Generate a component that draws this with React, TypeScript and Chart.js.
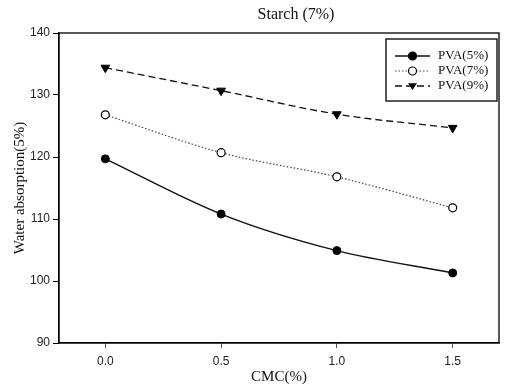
import React, { useEffect, useRef } from "react";
import { Chart, registerables } from "chart.js";

Chart.register(...registerables);

const chartTitle = "Starch (7%)";
const xAxisTitle = "CMC(%)";
const yAxisTitle = "Water absorption(5%)";
const cmc = [0.0, 0.5, 1.0, 1.5];
const xTickValues = [0.0, 0.5, 1.0, 1.5];
const yTickValues = [90, 100, 110, 120, 130, 140];
const seriesLabels = ["PVA(5%)", "PVA(7%)", "PVA(9%)"];
const pva5 = [119.7, 110.8, 104.9, 101.3];
const pva7 = [126.8, 120.7, 116.8, 111.8];
const pva9 = [134.4, 130.7, 126.9, 124.7];

const SERIF = "'Liberation Serif', 'Times New Roman', serif";
const SANS = "'Liberation Sans', Arial, sans-serif";

const framePlugin = {
  id: "frame",
  beforeDatasetsDraw(chart: any) {
    const { ctx, chartArea } = chart;
    ctx.save();
    ctx.strokeStyle = "#000";
    ctx.lineWidth = 1.3;
    ctx.strokeRect(chartArea.left, chartArea.top, chartArea.right - chartArea.left, chartArea.bottom - chartArea.top);
    ctx.restore();
  },
};

const annotPlugin = {
  id: "annot",
  afterDraw(chart: any) {
    const { ctx, chartArea } = chart;
    ctx.save();
    // title
    ctx.fillStyle = "#111";
    ctx.font = `16px ${SERIF}`;
    ctx.textAlign = "center";
    ctx.textBaseline = "middle";
    ctx.fillText(chartTitle, (chartArea.left + chartArea.right) / 2 + 17, 15);

    // legend
    const bx = chartArea.right - 113;
    const by = chartArea.top + 6;
    const bw = 111;
    const bh = 62;
    ctx.fillStyle = "#fff";
    ctx.fillRect(bx, by, bw, bh);
    ctx.strokeStyle = "#222";
    ctx.lineWidth = 1.5;
    ctx.strokeRect(bx, by, bw, bh);
    chart.data.datasets.forEach((ds: any, i: number) => {
      const y = by + 17 + i * 15;
      const x0 = bx + 9;
      const x1 = bx + 44;
      ctx.save();
      ctx.strokeStyle = ds.borderColor;
      ctx.lineWidth = ds.borderWidth;
      ctx.setLineDash(ds.borderDash || []);
      ctx.beginPath();
      ctx.moveTo(x0, y);
      ctx.lineTo(x1, y);
      ctx.stroke();
      ctx.restore();
      const mx = (x0 + x1) / 2;
      ctx.save();
      ctx.lineWidth = 1.2;
      ctx.strokeStyle = "#000";
      ctx.fillStyle = ds.pointBackgroundColor;
      if (ds.pointStyle === "triangle") {
        const r = 4.5;
        ctx.beginPath();
        ctx.moveTo(mx - r, y - r * 0.6);
        ctx.lineTo(mx + r, y - r * 0.6);
        ctx.lineTo(mx, y + r * 0.9);
        ctx.closePath();
        ctx.fillStyle = "#000";
        ctx.fill();
      } else {
        ctx.beginPath();
        ctx.arc(mx, y, 4, 0, Math.PI * 2);
        ctx.fill();
        ctx.stroke();
      }
      ctx.restore();
      ctx.fillStyle = "#111";
      ctx.font = `13px ${SERIF}`;
      ctx.textAlign = "left";
      ctx.textBaseline = "middle";
      ctx.fillText(ds.label, bx + 52, y);
    });
    ctx.restore();
  },
};

export default function App() {
  const ref = useRef<HTMLCanvasElement | null>(null);
  useEffect(() => {
    if (!ref.current) return;
    const chart = new Chart(ref.current, {
      type: "line",
      data: {
        datasets: [
          {
            label: seriesLabels[0],
            data: cmc.map((x, i) => ({ x, y: pva5[i] })),
            borderColor: "#111",
            borderWidth: 1.4,
            pointStyle: "circle",
            pointRadius: 4,
            pointBackgroundColor: "#000",
            pointBorderColor: "#000",
            pointBorderWidth: 1,
            cubicInterpolationMode: "monotone",
          },
          {
            label: seriesLabels[1],
            data: cmc.map((x, i) => ({ x, y: pva7[i] })),
            borderColor: "#444",
            borderWidth: 1.2,
            borderDash: [1.5, 2],
            pointStyle: "circle",
            pointRadius: 4,
            pointBackgroundColor: "#fff",
            pointBorderColor: "#000",
            pointBorderWidth: 1.2,
            cubicInterpolationMode: "monotone",
          },
          {
            label: seriesLabels[2],
            data: cmc.map((x, i) => ({ x, y: pva9[i] })),
            borderColor: "#111",
            borderWidth: 1.3,
            borderDash: [7, 4],
            pointStyle: "triangle",
            rotation: 180,
            pointRadius: 5,
            pointBackgroundColor: "#000",
            pointBorderColor: "#000",
            pointBorderWidth: 1,
            cubicInterpolationMode: "monotone",
          } as any,
        ],
      },
      options: {
        animation: false,
        responsive: false,
        layout: { padding: { top: 33, right: 6, left: 0, bottom: 0 } },
        plugins: { legend: { display: false }, tooltip: { enabled: false }, title: { display: false } },
        scales: {
          x: {
            type: "linear",
            min: -0.2,
            max: 1.7,
            afterBuildTicks: (s: any) => {
              s.ticks = xTickValues.map((v) => ({ value: v }));
            },
            afterFit: (s: any) => {
              s.height = 49;
            },
            ticks: {
              font: { family: SANS, size: 12 },
              color: "#222",
              padding: 6,
              callback: (v: any) => Number(v).toFixed(1),
            },
            grid: { drawOnChartArea: false, tickLength: 5, color: "#555" },
            border: { color: "#000", width: 1.3 },
            title: {
              display: true,
              text: xAxisTitle,
              font: { family: SERIF, size: 15 },
              color: "#111",
              padding: { top: 0, bottom: 6 },
            },
          },
          y: {
            min: 90,
            max: 140,
            afterBuildTicks: (s: any) => {
              s.ticks = yTickValues.map((v) => ({ value: v }));
            },
            afterFit: (s: any) => {
              s.width = 59;
            },
            ticks: {
              font: { family: SANS, size: 12 },
              color: "#222",
              padding: 3,
            },
            grid: { drawOnChartArea: false, tickLength: 6, color: "#000" },
            border: { color: "#000", width: 1.3 },
            title: {
              display: true,
              text: yAxisTitle,
              font: { family: SERIF, size: 15 },
              color: "#111",
              padding: { top: 11, bottom: 0 },
            },
          },
        },
      },
      plugins: [framePlugin, annotPlugin],
    } as any);
    return () => chart.destroy();
  }, []);
  return (
    <div style={{ position: "absolute", left: 0, top: 0, width: 505, height: 392 }}>
      <canvas ref={ref} width={505} height={392} style={{ display: "block" }} />
    </div>
  );
}
